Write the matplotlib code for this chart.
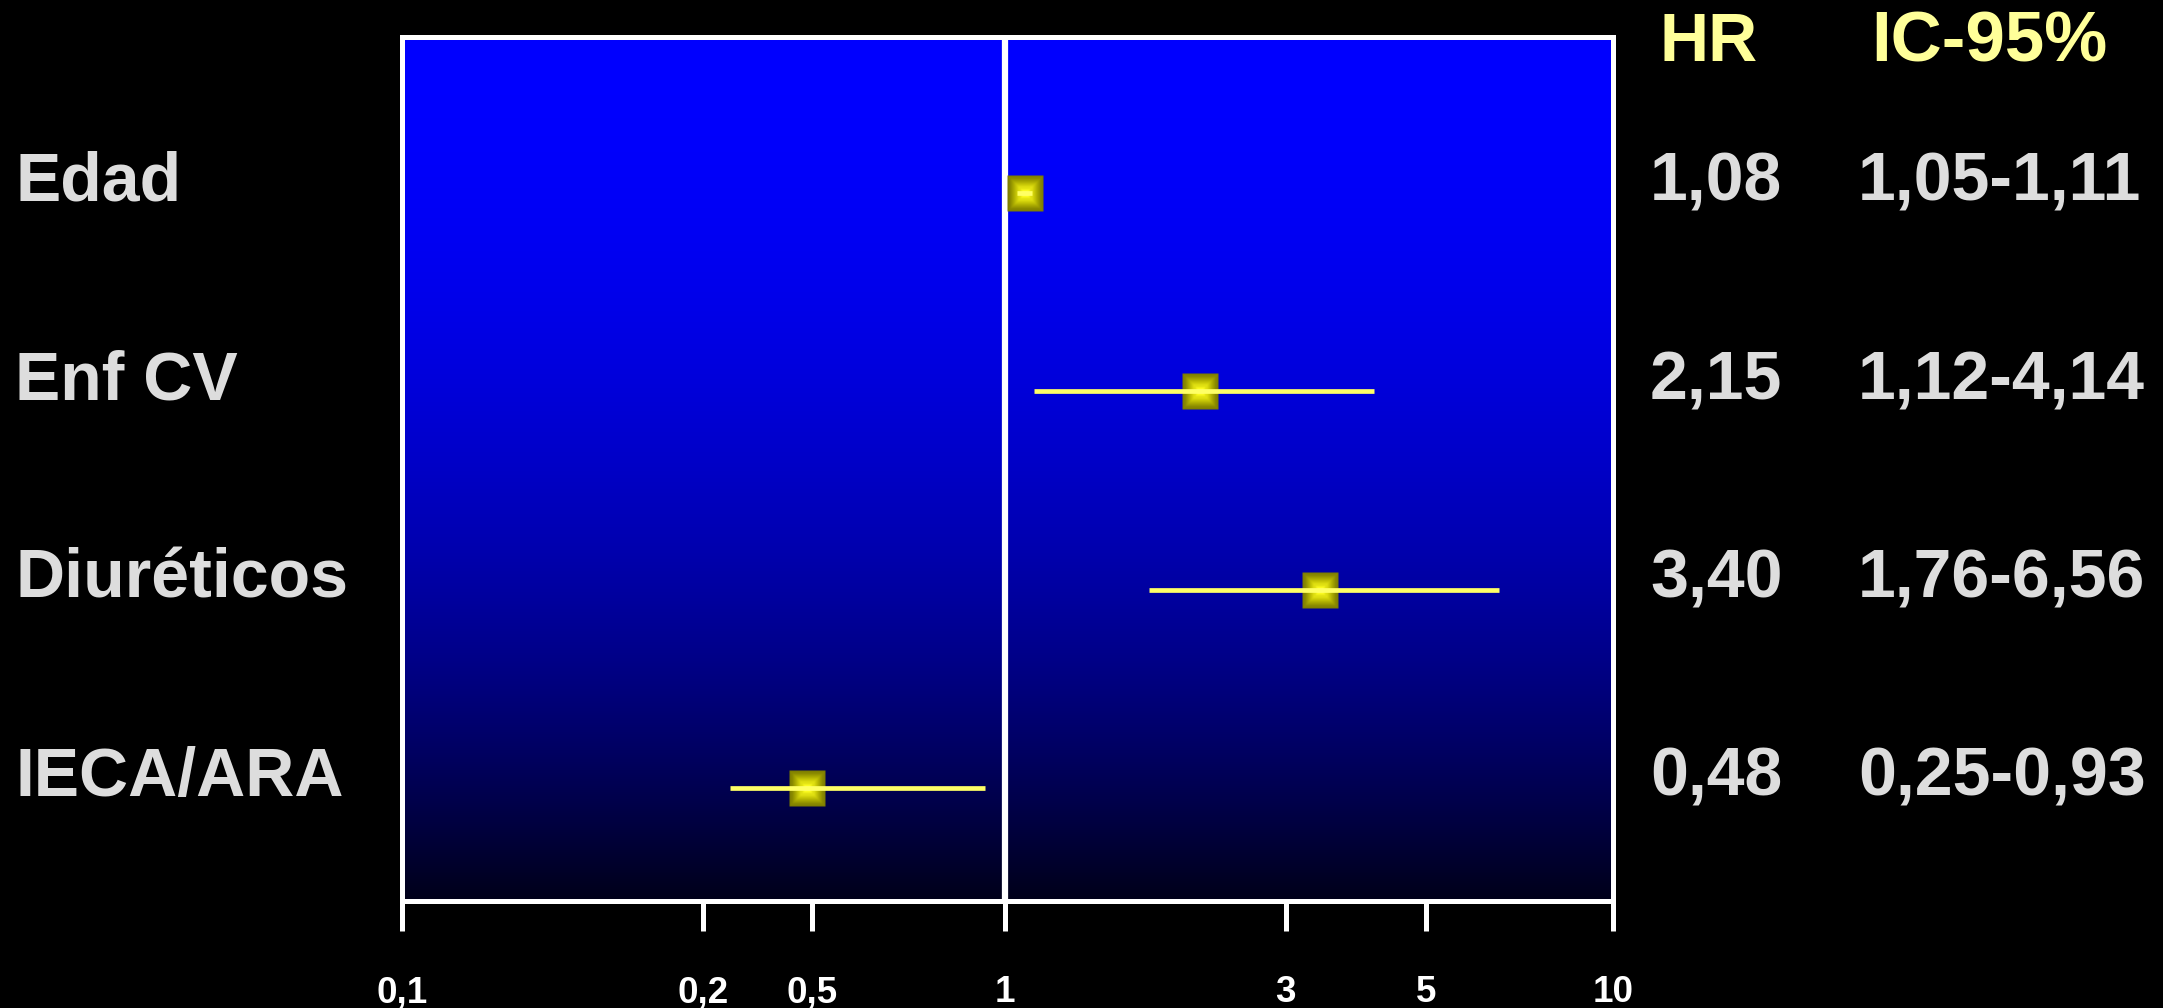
import numpy as np
import matplotlib
matplotlib.use("Agg")
import matplotlib.pyplot as plt
from matplotlib.transforms import blended_transform_factory
from matplotlib.ticker import FixedLocator, FixedFormatter, NullLocator

# ---------------- data ----------------
categories = ["Edad", "Enf CV", "Diuréticos", "IECA/ARA"]
hr = [1.08, 2.15, 3.40, 0.48]
ci_low = [1.05, 1.12, 1.76, 0.25]
ci_high = [1.11, 4.14, 6.56, 0.93]
tick_values = [0.1, 0.2, 0.5, 1, 3, 5, 10]
tick_labels = ["0,1", "0,2", "0,5", "1", "3", "5", "10"]
col_headers = ["HR", "IC-95%"]

# irregular (hand-drawn) log axis: fraction of axis width at each tick value
tick_frac = [0.0, 0.2489, 0.3386, 0.4979, 0.7296, 0.8453, 1.0]

plt.rcParams['font.family'] = ['Liberation Sans', 'DejaVu Sans']
plt.rcParams['font.weight'] = 'bold'

W, H = 2163, 1008
fig = plt.figure(figsize=(W / 100, H / 100), dpi=100, facecolor='black')

left, right, top, bottom = 402, 1613, 37, 901
rect = [left / W, 1 - bottom / H, (right - left) / W, (bottom - top) / H]

# background gradient axes
bg = fig.add_axes(rect, zorder=0)
t = np.linspace(0, 1, 512)[:, None]
blue = (25 + 230 * (1 - t ** 2)) / 255.0
img = np.dstack([np.zeros_like(blue), np.zeros_like(blue), blue])
bg.imshow(img, aspect='auto', extent=[0, 1, 0, 1], interpolation='bilinear')
bg.axis('off')

ax = fig.add_axes(rect, zorder=1)
ax.patch.set_alpha(0)

la = np.log10(np.array(tick_values, float))
fa = np.array(tick_frac, float)
s0 = (fa[1] - fa[0]) / (la[1] - la[0])
s1 = (fa[-1] - fa[-2]) / (la[-1] - la[-2])


def fwd(x):
    x = np.asarray(x, float)
    lx = np.log10(np.clip(x, 1e-30, None))
    y = np.interp(lx, la, fa)
    y = np.where(lx < la[0], fa[0] + (lx - la[0]) * s0, y)
    y = np.where(lx > la[-1], fa[-1] + (lx - la[-1]) * s1, y)
    return y


def inv(y):
    y = np.asarray(y, float)
    lx = np.interp(y, fa, la)
    lx = np.where(y < fa[0], la[0] + (y - fa[0]) / s0, lx)
    lx = np.where(y > fa[-1], la[-1] + (y - fa[-1]) / s1, lx)
    return 10 ** lx


ax.set_xscale('function', functions=(fwd, inv))

ys = np.arange(len(categories))

# reference line at HR = 1
ax.axvline(1, color='white', lw=4.5, zorder=2)

# layered square markers (olive edge -> bright yellow centre)
n_layers = 14
for i in range(n_layers):
    f = i / (n_layers - 1)
    size = 25.5 * (1 - 0.82 * f)
    c = 0.48 + 0.52 * f
    col = (c, c, 0.15 * f ** 3)
    ax.plot(hr, ys, ls='none', marker='s', ms=size, color=col, mec='none', zorder=3)

# confidence intervals
ax.hlines(ys, ci_low, ci_high, color='#FFFF66', lw=3.4, zorder=4)

ax.set_xlim(0.1, 10)
unit = (788 - 193) / 3.0
ax.set_ylim((bottom - 193) / unit, (top - 193) / unit)

# axes styling
for sp in ax.spines.values():
    sp.set_color('white')
    sp.set_linewidth(3.6)
ax.set_yticks([])
ax.xaxis.set_major_locator(FixedLocator(tick_values))
ax.xaxis.set_major_formatter(FixedFormatter(tick_labels))
ax.xaxis.set_minor_locator(NullLocator())
ax.tick_params(axis='x', direction='out', length=21.6, width=3.6, color='white',
               labelcolor='white', labelsize=26.5, pad=32)

# text columns
tr = blended_transform_factory(fig.transFigure, ax.transData)
fs = 49
txt_col = '#DDDDDD'


def fmt(v):
    return f"{v:.2f}".replace('.', ',')


for yv, name, h, lo, hi in zip(ys, categories, hr, ci_low, ci_high):
    yy = yv + 0.04
    ax.text(15 / W, yy, name, transform=tr, fontsize=fs, color=txt_col,
            fontweight='bold', va='baseline', ha='left', clip_on=False)
    ax.text(1650 / W, yy, fmt(h), transform=tr, fontsize=fs, color=txt_col,
            fontweight='bold', va='baseline', ha='left', clip_on=False)
    ax.text(1858 / W, yy, f"{fmt(lo)}-{fmt(hi)}", transform=tr, fontsize=fs,
            color=txt_col, fontweight='bold', va='baseline', ha='left', clip_on=False)

fig.text(1660 / W, 1 - 61 / H, col_headers[0], fontsize=fs, color='#FFFF99',
         fontweight='bold', va='baseline', ha='left')
fig.text(1871 / W, 1 - 61 / H, col_headers[1], fontsize=fs + 2, color='#FFFF99',
         fontweight='bold', va='baseline', ha='left')

fig.savefig('out.png', dpi=100, facecolor='black')
